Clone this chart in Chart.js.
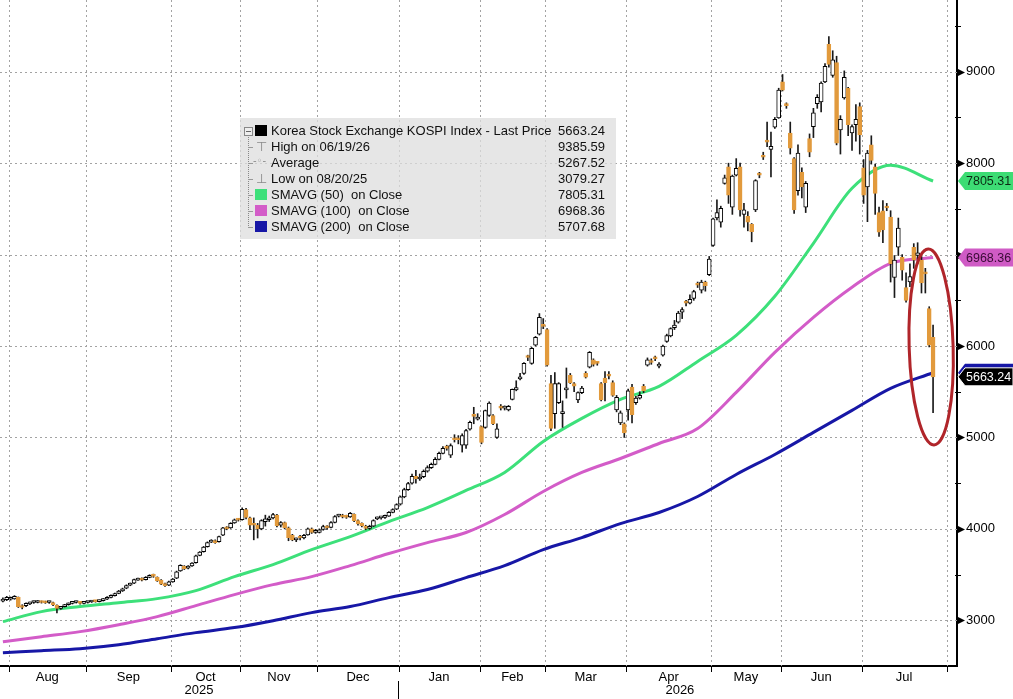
<!DOCTYPE html>
<html>
<head>
<meta charset="utf-8">
<script src="https://cdn.jsdelivr.net/npm/chart.js@4.4.1/dist/chart.umd.min.js"></script>
<style>
body { margin: 0; background: #fff; }
#caixa { position: relative; width: 1013px; height: 699px; }
#legenda { position: absolute; left: 240px; top: 118px; width: 376px; height: 121px;
  background: rgba(222, 222, 222, 0.75); font: 13px 'Liberation Sans', Arial, sans-serif; color: #111; }
.linha { position: absolute; left: 0; width: 100%; height: 16px; line-height: 16px; }
.nome { position: absolute; left: 31px; white-space: nowrap; }
.valor { position: absolute; left: 318px; }
.quad { position: absolute; left: 15px; top: 2px; width: 12px; height: 11px; }
.tronco { position: absolute; left: 8px; top: 16px; height: 94px; border-left: 1px dotted #888; }
.galho { position: absolute; left: 8px; top: 8px; width: 5px; border-top: 1px solid #999; }
.menos { position: absolute; left: 4px; top: 4px; width: 7px; height: 7px; border: 1px solid #888; background: #eee; }
.menos:after { content: ''; position: absolute; left: 1px; top: 3px; width: 5px; border-top: 1px solid #666; }
.simbolo { position: absolute; left: 16px; color: #8a8a8a; font: 13px 'DejaVu Sans', sans-serif; }
</style>
</head>
<body>
<div id="caixa">
  <canvas id="grafico" width="1013" height="699"></canvas>
  <div id="legenda">
    <div class="tronco"></div>
    <div class="linha" style="top:5px"><span class="menos"></span><span class="quad" style="background:#000"></span><span class="nome">Korea Stock Exchange KOSPI Index - Last Price</span><span class="valor">5663.24</span></div>
    <div class="linha" style="top:21px"><span class="galho"></span><span class="simbolo">&#8868;</span><span class="nome">High on 06/19/26</span><span class="valor">9385.59</span></div>
    <div class="linha" style="top:37px"><span class="galho"></span><span class="simbolo" style="left:13px;font-size:10px">-&#9702;-</span><span class="nome">Average</span><span class="valor">5267.52</span></div>
    <div class="linha" style="top:53px"><span class="galho"></span><span class="simbolo">&#8869;</span><span class="nome">Low on 08/20/25</span><span class="valor">3079.27</span></div>
    <div class="linha" style="top:69px"><span class="galho"></span><span class="quad" style="background:#3de07a"></span><span class="nome">SMAVG (50)&nbsp; on Close</span><span class="valor">7805.31</span></div>
    <div class="linha" style="top:85px"><span class="galho"></span><span class="quad" style="background:#d35cc8"></span><span class="nome">SMAVG (100)&nbsp; on Close</span><span class="valor">6968.36</span></div>
    <div class="linha" style="top:101px"><span class="galho"></span><span class="quad" style="background:#1717a6"></span><span class="nome">SMAVG (200)&nbsp; on Close</span><span class="valor">5707.68</span></div>
  </div>
</div>
<script>
// pregões de 30/07/2025 a meados de julho/2026 (um valor por pregão)
const abertura = [
  3210, 3225,
  // ago
  3230, 3235, 3250, 3160, 3160, 3180, 3195, 3195, 3205, 3200, 3195, 3195, 3165, 3130, 3150, 3170, 3185, 3195, 3200, 3185,
  // set
  3195, 3200, 3212, 3205, 3215, 3230, 3250, 3270, 3295, 3320, 3350, 3385, 3405, 3440, 3455, 3445, 3470, 3495, 3470, 3440, 3400, 3385,
  // out
  3420, 3460, 3540, 3590, 3570, 3595, 3630, 3710, 3750, 3805, 3855, 3870, 3860, 3930, 4015, 4010, 4065, 4100,
  // nov
  4100, 4210, 4120, 4060, 4040, 4000, 4080, 4100, 4120, 4150, 4040, 4070, 4010, 3930, 3880, 3920, 3900, 3935, 4000, 3960,
  // dez
  3960, 3995, 4025, 4015, 4070, 4140, 4150, 4140, 4130, 4160, 4090, 4060, 4030, 4005, 4030, 4110, 4120, 4125, 4140, 4180, 4215,
  // jan
  4270, 4350, 4430, 4500, 4575, 4545, 4570, 4630, 4670, 4705, 4760, 4825, 4905, 4805, 4990, 4985, 4915, 4915, 5090, 5245, 5200,
  // fev
  5120, 5110, 5240, 5240, 5000, 5330, 5320, 5300, 5415, 5520, 5640, 5700, 5880, 5810, 6010, 6130, 6225,
  // mar
  6180, 5590, 5260, 5380, 5260, 5520, 5680, 5590, 5410, 5490, 5700, 5770, 5850, 5820, 5590, 5650, 5690, 5600, 5300, 5160, 5150,
  // abr
  5300, 5550, 5380, 5430, 5560, 5790, 5840, 5870, 5780, 5900, 6050, 6110, 6200, 6260, 6370, 6480, 6470, 6520, 6680, 6610, 6700, 6780,
  // mai
  7100, 7400, 7355, 7780, 7960, 7520, 7870, 7960, 7440, 7420, 7330, 7490, 7880, 8080, 8240, 8150, 8395, 8495,
  // jun
  8890, 8650, 8330, 8050, 7700, 7900, 7520, 8270, 8400, 8650, 8670, 8890, 9300, 8960, 9100, 8365, 8715, 8820, 8330, 8420, 8620,
  // jul
  7950, 7740, 8200, 7960, 7460, 7480, 7520, 7410, 6750, 7080, 6970, 6640, 6700, 7080, 6990, 6940, 6800, 6410, 6095
];
const maxima = [
  3245, 3262,
  3255, 3270, 3255, 3170, 3190, 3198, 3210, 3215, 3212, 3210, 3208, 3200, 3170, 3150, 3175, 3190, 3198, 3210, 3205, 3200,
  3208, 3218, 3218, 3222, 3238, 3258, 3278, 3298, 3328, 3352, 3388, 3408, 3452, 3462, 3465, 3478, 3498, 3505, 3475, 3445, 3408, 3428,
  3458, 3538, 3608, 3598, 3598, 3632, 3712, 3752, 3808, 3858, 3882, 3880, 3922, 4018, 4025, 4068, 4108, 4112,
  4230, 4225, 4130, 4120, 4060, 4100, 4150, 4140, 4170, 4160, 4080, 4075, 4020, 3940, 3900, 3930, 3940, 4010, 4010, 3995,
  4000, 4040, 4035, 4080, 4145, 4160, 4160, 4150, 4180, 4165, 4100, 4065, 4040, 4040, 4100, 4130, 4135, 4150, 4190, 4220, 4275,
  4360, 4445, 4510, 4600, 4640, 4600, 4645, 4690, 4720, 4780, 4840, 4900, 4915, 4930, 5030, 5020, 5040, 5090, 5180, 5330, 5260,
  5125, 5300, 5390, 5250, 5150, 5360, 5345, 5350, 5530, 5620, 5700, 5820, 5900, 5985, 6105, 6355, 6300,
  6190, 5680, 5710, 5600, 5400, 5760, 5700, 5600, 5500, 5560, 5720, 5940, 5860, 5830, 5600, 5720, 5720, 5620, 5460, 5290, 5160,
  5530, 5580, 5450, 5500, 5580, 5870, 5860, 5890, 5820, 6010, 6130, 6200, 6280, 6380, 6420, 6500, 6560, 6610, 6700, 6720, 6710, 6980,
  7400, 7600, 7530, 7870, 8000, 7870, 8050, 8000, 7560, 7470, 7340, 7820, 7900, 8120, 8450, 8340, 8500, 8820,
  8970, 8660, 8450, 8060, 8200, 7950, 7800, 8320, 8600, 8750, 8890, 9090, 9385.59, 9230, 9170, 8520, 9010, 8830, 8420, 8640, 8660,
  8040, 8140, 8300, 7990, 7520, 7590, 7560, 7480, 6990, 7400, 7000, 6800, 6900, 7120, 7130, 6990, 6850, 6430, 6230
];
const minima = [
  3200, 3215,
  3220, 3230, 3140, 3125, 3150, 3172, 3185, 3190, 3188, 3185, 3185, 3160, 3079.27, 3120, 3145, 3165, 3178, 3188, 3175, 3180,
  3188, 3195, 3198, 3200, 3210, 3225, 3245, 3265, 3290, 3315, 3345, 3378, 3400, 3435, 3432, 3440, 3465, 3470, 3425, 3390, 3370, 3380,
  3415, 3455, 3535, 3555, 3562, 3590, 3625, 3705, 3745, 3800, 3850, 3842, 3855, 3925, 3990, 4005, 4060, 4085,
  4095, 4110, 3990, 3880, 3900, 3990, 4030, 4080, 4110, 4020, 4020, 4000, 3870, 3870, 3860, 3880, 3890, 3930, 3950, 3950,
  3955, 3985, 3995, 4010, 4065, 4130, 4120, 4115, 4125, 4080, 4040, 4020, 3990, 3995, 4025, 4100, 4105, 4115, 4135, 4175, 4210,
  4260, 4340, 4420, 4490, 4500, 4530, 4560, 4620, 4660, 4700, 4755, 4820, 4860, 4780, 4950, 4930, 4840, 4880, 5080, 5150, 5190,
  4930, 5100, 5230, 5140, 4990, 5300, 5300, 5290, 5410, 5510, 5630, 5690, 5840, 5800, 6000, 6120, 6190,
  5780, 5075, 5100, 5370, 5110, 5430, 5590, 5500, 5380, 5480, 5650, 5760, 5780, 5790, 5400, 5400, 5640, 5450, 5280, 5140, 5000,
  5190, 5160, 5360, 5420, 5490, 5780, 5800, 5840, 5760, 5890, 6040, 6100, 6180, 6250, 6300, 6440, 6460, 6500, 6640, 6580, 6600, 6770,
  7090, 7380, 7300, 7770, 7560, 7440, 7860, 7420, 7300, 7260, 7140, 7470, 7840, 8040, 8180, 7850, 8380, 8490,
  8790, 8600, 8100, 7450, 7650, 7620, 7460, 8070, 8280, 8600, 8560, 8880, 9050, 8940, 8200, 8100, 8700, 8300, 8140, 8240, 8100,
  7560, 7360, 7990, 7440, 7200, 7130, 7480, 6700, 6530, 6990, 6720, 6480, 6650, 6850, 6900, 6580, 6580, 5990, 5270
];
const fechamento = [
  3230, 3250,
  3245, 3262, 3150, 3140, 3185, 3190, 3200, 3205, 3195, 3190, 3200, 3170, 3130, 3140, 3170, 3185, 3190, 3200, 3185, 3195,
  3200, 3210, 3205, 3215, 3230, 3250, 3270, 3290, 3320, 3345, 3380, 3400, 3445, 3450, 3440, 3470, 3490, 3480, 3430, 3395, 3380, 3420,
  3450, 3530, 3600, 3565, 3590, 3625, 3705, 3745, 3800, 3850, 3875, 3850, 3915, 4010, 4000, 4060, 4100, 4095,
  4215, 4125, 4040, 4040, 4000, 4090, 4110, 4120, 4155, 4035, 4070, 4010, 3905, 3880, 3890, 3900, 3930, 4000, 3960, 3985,
  3990, 4025, 4010, 4070, 4135, 4145, 4130, 4125, 4170, 4090, 4055, 4035, 4005, 4025, 4090, 4120, 4125, 4140, 4180, 4210, 4265,
  4350, 4430, 4495, 4575, 4550, 4565, 4630, 4670, 4705, 4760, 4825, 4880, 4880, 4910, 4975, 4975, 5020, 5075, 5165, 5230, 5220,
  4945, 5295, 5375, 5150, 5095, 5320, 5330, 5340, 5525, 5545, 5660, 5810, 5875, 5975, 6095, 6315, 6215,
  5790, 5100, 5590, 5590, 5270, 5540, 5600, 5560, 5490, 5540, 5660, 5930, 5800, 5810, 5410, 5600, 5670, 5460, 5440, 5270, 5050,
  5510, 5250, 5430, 5460, 5510, 5850, 5820, 5860, 5800, 6000, 6115, 6190, 6230, 6360, 6400, 6470, 6510, 6595, 6665, 6700, 6660, 6950,
  7390, 7460, 7505, 7840, 7650, 7860, 7945, 7490, 7490, 7355, 7250, 7810, 7870, 8065, 8230, 8185, 8480, 8800,
  8800, 8630, 8165, 7490, 8110, 7740, 7780, 8120, 8550, 8720, 8875, 9060, 9080, 9130, 8220, 8480, 8940, 8420, 8400, 8480, 8310,
  7650, 8110, 8030, 7670, 7245, 7270, 7510, 6900, 6940, 7290, 6830, 6500, 6760, 6940, 7020, 6690, 6790, 6010, 5663.24
];

// médias móveis lidas a cada 10 pregões
const pregoesMedia = [0, 10, 20, 30, 40, 50, 60, 70, 80, 90, 100, 110, 120, 130, 140, 150, 160, 170, 180, 190, 200, 210, 220, 230, 241];
const media50 = [2985, 3095, 3150, 3193, 3237, 3325, 3478, 3609, 3773, 3916, 4080, 4233, 4420, 4617, 4956, 5208, 5416, 5559, 5832, 6117, 6544, 7124, 7726, 7978, 7805.31];
const media100 = [2766, 2821, 2876, 2952, 3040, 3160, 3281, 3390, 3478, 3598, 3730, 3850, 3960, 4157, 4409, 4617, 4770, 4934, 5098, 5493, 5931, 6314, 6643, 6905, 6968.36];
const media200 = [2646, 2668, 2690, 2733, 2799, 2865, 2920, 2996, 3084, 3150, 3248, 3336, 3467, 3598, 3773, 3905, 4058, 4179, 4354, 4595, 4814, 5055, 5296, 5537, 5707.68];

// eixo x: viradas de mês (em pregões) e nomes
const viradaMes = [1.5, 21.5, 43.5, 61.5, 81.5, 102.5, 123.5, 140.5, 161.5, 183.5, 201.5, 222.5, 244.5];
const meses = ['Aug', 'Sep', 'Oct', 'Nov', 'Dec', 'Jan', 'Feb', 'Mar', 'Apr', 'May', 'Jun', 'Jul'];
const anos = ['2025', '2026'];
const posAnos = [50.8, 175.4];
const ticksY = [3000, 4000, 5000, 6000, 7000, 8000, 9000];

const laranja = '#e29a3c';
const verde = '#3de07a';
const rosa = '#d35cc8';
const azul = '#1717a6';
const fonteTexto = "'Liberation Sans', Arial, sans-serif";
const fonteEstreita = "'Liberation Sans Narrow', 'Liberation Sans', sans-serif";

const velas = fechamento.map((c, i) => ({ x: i, y: [abertura[i], c] }));
const pavios = fechamento.map((c, i) => ({ x: i, y: [minima[i], maxima[i]] }));
const corVela = fechamento.map((c, i) => c >= abertura[i] ? '#ffffff' : laranja);
const bordaVela = fechamento.map((c, i) => c >= abertura[i] ? '#000000' : laranja);

function linhaMedia(valores) {
    return pregoesMedia.map((x, k) => ({ x: x, y: valores[k] }));
}

function etiqueta(ctx, x, y, fundo, corTexto, texto, contorno) {
    ctx.beginPath();
    ctx.moveTo(x, y);
    ctx.lineTo(x + 7, y - 9);
    ctx.lineTo(1013, y - 9);
    ctx.lineTo(1013, y + 9);
    ctx.lineTo(x + 7, y + 9);
    ctx.closePath();
    ctx.fillStyle = fundo;
    ctx.fill();
    if (contorno) {
        ctx.strokeStyle = contorno;
        ctx.lineWidth = 1;
        ctx.stroke();
    }
    if (texto) {
        ctx.fillStyle = corTexto;
        ctx.font = '12.5px ' + fonteTexto;
        ctx.textAlign = 'left';
        ctx.textBaseline = 'middle';
        ctx.fillText(texto, x + 8, y + 1);
    }
}

const enfeites = {
    id: 'enfeites',
    beforeDatasetsDraw(chart) {
        const ctx = chart.ctx;
        const area = chart.chartArea;
        const sx = chart.scales.x, sy = chart.scales.y;
        ctx.save();
        ctx.strokeStyle = '#a3a3a3';
        ctx.lineWidth = 1;
        ctx.setLineDash([2, 3]);
        ticksY.forEach(v => {
            const y = Math.round(sy.getPixelForValue(v)) + 0.5;
            ctx.beginPath();
            ctx.moveTo(area.left, y);
            ctx.lineTo(area.right, y);
            ctx.stroke();
        });
        viradaMes.forEach(v => {
            const x = Math.round(sx.getPixelForValue(v)) + 0.5;
            ctx.beginPath();
            ctx.moveTo(x, area.top);
            ctx.lineTo(x, area.bottom);
            ctx.stroke();
        });
        ctx.restore();
    },
    afterDatasetsDraw(chart) {
        // elipse vermelha em volta da queda final
        const ctx = chart.ctx;
        const sx = chart.scales.x, sy = chart.scales.y;
        ctx.save();
        ctx.strokeStyle = '#b0252a';
        ctx.lineWidth = 3;
        ctx.beginPath();
        ctx.ellipse(sx.getPixelForValue(240.5), sy.getPixelForValue(5990), 22, 98, -0.03, 0, Math.PI * 2);
        ctx.stroke();
        ctx.restore();
    },
    afterDraw(chart) {
        const ctx = chart.ctx;
        const area = chart.chartArea;
        const sx = chart.scales.x, sy = chart.scales.y;
        ctx.save();
        // marcas do eixo x
        ctx.strokeStyle = '#000';
        ctx.lineWidth = 1;
        viradaMes.forEach(v => {
            const x = Math.round(sx.getPixelForValue(v)) + 0.5;
            ctx.beginPath();
            ctx.moveTo(x, area.bottom);
            ctx.lineTo(x, area.bottom + 6);
            ctx.stroke();
        });
        const xAno = Math.round(sx.getPixelForValue(viradaMes[5])) - 0.5;
        ctx.beginPath();
        ctx.moveTo(xAno, area.bottom + 15);
        ctx.lineTo(xAno, 699);
        ctx.stroke();
        ctx.fillStyle = '#000';
        ctx.font = '13px ' + fonteEstreita;
        ctx.textAlign = 'center';
        ctx.textBaseline = 'middle';
        anos.forEach((a, k) => ctx.fillText(a, sx.getPixelForValue(posAnos[k]), 690));
        // setas e marcas do eixo y
        for (let v = 3000; v <= 9500; v += 500) {
            const y = Math.round(sy.getPixelForValue(v)) + 0.5;
            if (v % 1000 === 0) {
                ctx.beginPath();
                ctx.moveTo(area.right, y - 4);
                ctx.lineTo(area.right + 8, y);
                ctx.lineTo(area.right, y + 4);
                ctx.closePath();
                ctx.fill();
            } else {
                ctx.beginPath();
                ctx.moveTo(area.right - 2, y);
                ctx.lineTo(area.right + 4, y);
                ctx.stroke();
            }
        }
        // etiquetas de último valor
        const x0 = area.right + 1;
        const n = media50.length - 1;
        etiqueta(ctx, x0, sy.getPixelForValue(media50[n]), '#3ddc74', '#0b2a14', media50[n].toFixed(2));
        etiqueta(ctx, x0, sy.getPixelForValue(media100[n]), '#cf5bc5', '#3a0b36', media100[n].toFixed(2));
        etiqueta(ctx, x0, sy.getPixelForValue(media200[n]), azul, '#fff', '');
        const ultimo = fechamento[fechamento.length - 1];
        etiqueta(ctx, x0, sy.getPixelForValue(ultimo), '#000', '#fff', ultimo.toFixed(2), '#ffffff');
        ctx.restore();
    }
};

const grafico = new Chart(document.getElementById('grafico').getContext('2d'), {
    type: 'bar',
    data: {
        datasets: [
            {
                label: 'corpo',
                data: velas,
                backgroundColor: corVela,
                borderColor: bordaVela,
                borderWidth: 1,
                borderSkipped: false,
                barThickness: 4,
                minBarLength: 2,
                grouped: false,
                order: 0
            },
            {
                label: 'pavio',
                data: pavios,
                backgroundColor: '#1a1a1a',
                borderWidth: 0,
                barThickness: 1,
                grouped: false,
                order: 1
            },
            {
                type: 'line',
                label: 'SMAVG (50)',
                data: linhaMedia(media50),
                borderColor: verde,
                borderWidth: 3,
                pointRadius: 0,
                fill: false,
                cubicInterpolationMode: 'monotone',
                order: 2
            },
            {
                type: 'line',
                label: 'SMAVG (100)',
                data: linhaMedia(media100),
                borderColor: rosa,
                borderWidth: 3,
                pointRadius: 0,
                fill: false,
                cubicInterpolationMode: 'monotone',
                order: 3
            },
            {
                type: 'line',
                label: 'SMAVG (200)',
                data: linhaMedia(media200),
                borderColor: azul,
                borderWidth: 3,
                pointRadius: 0,
                fill: false,
                cubicInterpolationMode: 'monotone',
                order: 4
            }
        ]
    },
    options: {
        responsive: false,
        animation: false,
        devicePixelRatio: 1,
        layout: { padding: 0, autoPadding: false },
        plugins: { legend: { display: false }, tooltip: { enabled: false } },
        scales: {
            x: {
                type: 'linear',
                min: -0.75,
                max: 247.2,
                offset: false,
                grid: { display: false, drawTicks: false },
                border: { display: true, color: '#000', width: 2 },
                afterBuildTicks: s => { s.ticks = meses.map((m, k) => ({ value: (viradaMes[k] + viradaMes[k + 1]) / 2 })); },
                ticks: {
                    autoSkip: false,
                    maxRotation: 0,
                    padding: 4,
                    color: '#000',
                    font: { family: fonteEstreita, size: 13 },
                    callback: (v, i) => meses[i]
                },
                afterFit: s => { s.height = 33; s.paddingLeft = 0; s.paddingRight = 0; }
            },
            y: {
                position: 'right',
                min: 2500,
                max: 9785,
                grid: { display: false, drawTicks: false },
                border: { display: true, color: '#000', width: 2 },
                afterBuildTicks: s => { s.ticks = ticksY.map(v => ({ value: v })); },
                ticks: {
                    padding: 9,
                    color: '#000',
                    font: { family: fonteTexto, size: 13 },
                    callback: v => String(v)
                },
                afterFit: s => { s.width = 56; s.paddingTop = 0; s.paddingBottom = 0; }
            }
        }
    },
    plugins: [enfeites]
});
</script>
</body>
</html>
